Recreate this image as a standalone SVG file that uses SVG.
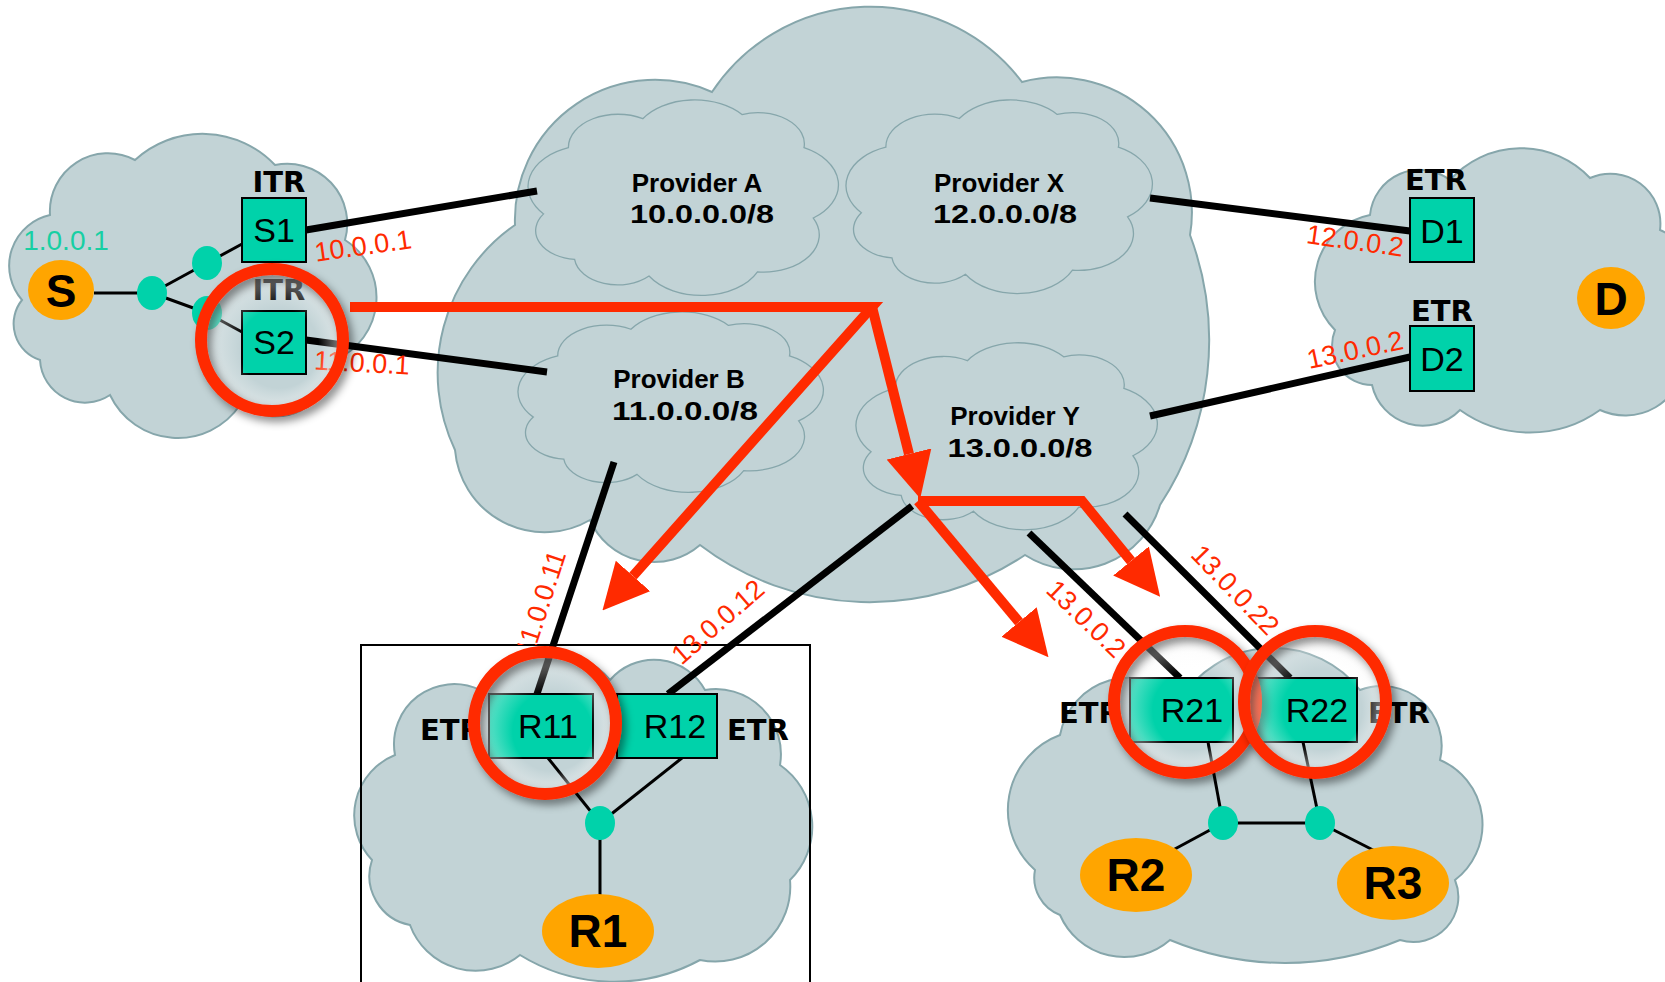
<svg xmlns="http://www.w3.org/2000/svg" xmlns:xlink="http://www.w3.org/1999/xlink" width="1665" height="982" viewBox="0 0 1665 982">
<style>
.cloud{fill:#c2d3d6;stroke:#86a6ab;stroke-width:2}
.pc{fill:#c2d3d6;stroke:#86a6ab;stroke-width:1.3}
.link{stroke:#000;stroke-width:7;fill:none}
.lan{stroke:#000;stroke-width:3;fill:none}
.box{fill:#00d2aa;stroke:#000;stroke-width:2}
.dot{fill:#00d2aa}
.host{fill:#ffa500}
.red{stroke:#ff2a00;stroke-width:10;fill:none;stroke-linejoin:miter}
.ring{fill:none;stroke:#ff2a00;stroke-width:12;filter:url(#sh)}
.glow{fill:url(#rg)}
.ip{fill:#ff2a00;font-family:"Liberation Sans",Arial,sans-serif;font-size:27px;text-anchor:middle}
.tr{font-family:"DejaVu Sans",sans-serif;font-weight:bold;font-size:29px;text-anchor:middle}
.bl{font-family:"Liberation Sans",Arial,sans-serif;font-size:34px;text-anchor:middle}
.hl{font-family:"Liberation Sans",Arial,sans-serif;font-weight:bold;font-size:46px;text-anchor:middle}
.pv{font-family:"Liberation Sans",Arial,sans-serif;font-weight:bold;font-size:26px;text-anchor:middle}
</style>
<defs>
<path id="pcloud" vector-effect="non-scaling-stroke" d="M6,60 A20,20 0 0 1 14,28 A16,16 0 0 1 38,14 A20,20 0 0 1 70,12 A15,15 0 0 1 90,28 A20,20 0 0 1 93,62 A18,18 0 0 1 75,88 A20,20 0 0 1 40,90 A14,14 0 0 1 16,82 A14,14 0 0 1 6,60 Z"/>
<marker id="ah" viewBox="0 0 10 10" refX="0" refY="5" markerWidth="4.6" markerHeight="4.6" orient="auto" markerUnits="strokeWidth">
<path d="M0,0 L10,5 L0,10 Z" fill="#ff2a00"/>
</marker>
<filter id="sh" x="-30%" y="-30%" width="170%" height="170%">
<feDropShadow dx="4" dy="5" stdDeviation="4" flood-color="#000" flood-opacity="0.45"/>
</filter>
<radialGradient id="rg" cx="0.5" cy="0.5" r="0.5" fx="0.64" fy="0.66">
<stop offset="0.6" stop-color="#ffffff" stop-opacity="0"/>
<stop offset="1" stop-color="#f2f2f2" stop-opacity="0.5"/>
</radialGradient>
<clipPath id="clipTop"><rect x="0" y="0" width="1665" height="645"/></clipPath>
</defs>
<rect width="1665" height="982" fill="#fff"/>

<g id="clouds">
<path class="cloud" d="M455,450 A180,180 0 0 1 515,225 A140,140 0 0 1 712,92 A190,190 0 0 1 1022,82 A135,135 0 0 1 1190,235 A300,300 0 0 1 1160,505 A90,90 0 0 1 1025,555 A280,280 0 0 1 700,545 A70,70 0 0 1 590,520 A90,90 0 0 1 455,450 Z"/>
<path class="cloud" d="M22,300 A52,52 0 0 1 50,215 A58,58 0 0 1 135,160 A100,100 0 0 1 275,165 A60,60 0 0 1 345,240 A68,68 0 0 1 335,360 A60,60 0 0 1 240,405 A75,75 0 0 1 110,395 A45,45 0 0 1 40,360 A38,38 0 0 1 22,300 Z"/>
<path class="cloud" d="M1335,330 A68,68 0 0 1 1370,215 A50,50 0 0 1 1450,180 A95,95 0 0 1 1590,178 A50,50 0 0 1 1660,230 A80,80 0 0 1 1685,360 A60,60 0 0 1 1600,410 A120,120 0 0 1 1460,410 A52,52 0 0 1 1372,385 A40,40 0 0 1 1335,330 Z"/>
<path class="cloud" d="M372,860 A65,65 0 0 1 395,755 A60,60 0 0 1 480,690 A80,80 0 0 1 610,680 A58,58 0 0 1 705,690 A65,65 0 0 1 780,765 A75,75 0 0 1 790,880 A75,75 0 0 1 700,960 A180,180 0 0 1 520,955 A70,70 0 0 1 410,925 A50,50 0 0 1 372,860 Z"/>
<path class="cloud" d="M1035,870 A80,80 0 0 1 1060,735 A70,70 0 0 1 1180,700 A110,110 0 0 1 1360,690 A60,60 0 0 1 1440,760 A70,70 0 0 1 1455,880 A45,45 0 0 1 1400,940 A300,300 0 0 1 1170,940 A70,70 0 0 1 1060,915 A40,40 0 0 1 1035,870 Z"/>
</g>

<g id="providerA">
<use xlink:href="#pcloud" class="pc" transform="translate(525,89.7) scale(3.1,2.07)"/>
<text class="pv" x="697" y="192">Provider A</text>
<text class="pv" x="702" y="223" textLength="144" lengthAdjust="spacingAndGlyphs">10.0.0.0/8</text>
</g>
<g id="providerX">
<use xlink:href="#pcloud" class="pc" transform="translate(843,89.8) scale(3.06,2.05)"/>
<text class="pv" x="999" y="192">Provider X</text>
<text class="pv" x="1005" y="223" textLength="144" lengthAdjust="spacingAndGlyphs">12.0.0.0/8</text>
</g>
<g id="providerB">
<use xlink:href="#pcloud" class="pc" transform="translate(515,302.5) scale(3.05,1.91)"/>
<text class="pv" x="679" y="388">Provider B</text>
<text class="pv" x="685" y="420" textLength="146" lengthAdjust="spacingAndGlyphs">11.0.0.0/8</text>
</g>
<g id="providerY">
<use xlink:href="#pcloud" class="pc" transform="translate(853,333) scale(3.01,1.98)"/>
<text class="pv" x="1015" y="425">Provider Y</text>
<text class="pv" x="1020" y="457" textLength="145" lengthAdjust="spacingAndGlyphs">13.0.0.0/8</text>
</g>

<rect id="site-R1-frame" x="361" y="645" width="449" height="360" fill="none" stroke="#000" stroke-width="2"/>

<g id="connectors">
<line class="link" x1="306" y1="230" x2="537" y2="191"/>
<line class="link" x1="306" y1="340" x2="547" y2="372"/>
<line class="link" x1="1150" y1="198" x2="1410" y2="231"/>
<line class="link" x1="1150" y1="416" x2="1410" y2="357"/>
<line class="link" x1="614" y1="462" x2="537" y2="694"/>
<line class="link" x1="912" y1="506" x2="668" y2="694"/>
<line class="link" x1="1029" y1="533" x2="1180" y2="678"/>
<line class="link" x1="1125" y1="514" x2="1290" y2="678"/>
<line class="lan" x1="94" y1="293" x2="152" y2="293"/>
<line class="lan" x1="152" y1="293" x2="207" y2="263"/>
<line class="lan" x1="152" y1="293" x2="207" y2="313"/>
<line class="lan" x1="207" y1="263" x2="242" y2="244"/>
<line class="lan" x1="207" y1="313" x2="242" y2="332"/>
<line class="lan" x1="548" y1="758" x2="600" y2="823"/>
<line class="lan" x1="682" y1="758" x2="600" y2="823"/>
<line class="lan" x1="600" y1="823" x2="600" y2="895"/>
<line class="lan" x1="1208" y1="742" x2="1223" y2="823"/>
<line class="lan" x1="1303" y1="742" x2="1320" y2="823"/>
<line class="lan" x1="1223" y1="823" x2="1320" y2="823"/>
<line class="lan" x1="1223" y1="823" x2="1173" y2="850"/>
<line class="lan" x1="1320" y1="823" x2="1377" y2="852"/>
</g>

<g id="S">
<ellipse class="host" cx="61" cy="290" rx="33" ry="30"/>
<text class="hl" x="61" y="307">S</text>
<text x="66" y="250" font-family="Liberation Sans, Arial, sans-serif" font-size="28" fill="#17cfa3" text-anchor="middle">1.0.0.1</text>
</g>
<g id="lanS">
<ellipse class="dot" cx="152" cy="293" rx="15" ry="17"/>
<ellipse class="dot" cx="207" cy="263" rx="15" ry="17"/>
<ellipse class="dot" cx="207" cy="313" rx="15" ry="17"/>
</g>
<g id="S1">
<text class="tr" x="279" y="192">ITR</text>
<rect class="box" x="242" y="198" width="64" height="64"/>
<text class="bl" x="274" y="242">S1</text>
</g>
<g id="S2">
<text class="tr" x="279" y="300">ITR</text>
<rect class="box" x="242" y="311" width="64" height="63"/>
<text class="bl" x="274" y="354">S2</text>
</g>
<g id="D1">
<text class="tr" x="1436" y="190">ETR</text>
<rect class="box" x="1410" y="198" width="64" height="64"/>
<text class="bl" x="1442" y="243">D1</text>
</g>
<g id="D2">
<text class="tr" x="1442" y="321">ETR</text>
<rect class="box" x="1410" y="326" width="64" height="65"/>
<text class="bl" x="1442" y="371">D2</text>
</g>
<g id="D">
<ellipse class="host" cx="1611" cy="298" rx="34" ry="31"/>
<text class="hl" x="1611" y="315">D</text>
</g>
<g id="R11">
<text class="tr" x="451" y="740">ETR</text>
<rect class="box" x="489" y="694" width="104" height="64"/>
<text class="bl" x="548" y="738">R11</text>
</g>
<g id="R12">
<rect class="box" x="617" y="694" width="100" height="64"/>
<text class="bl" x="675" y="738">R12</text>
<text class="tr" x="758" y="740">ETR</text>
</g>
<g id="lanR1">
<ellipse class="dot" cx="600" cy="823" rx="15" ry="17"/>
</g>
<g id="R1">
<ellipse class="host" cx="598" cy="931" rx="56" ry="37"/>
<text class="hl" x="598" y="947">R1</text>
</g>
<g id="R21">
<text class="tr" x="1090" y="723">ETR</text>
<rect class="box" x="1130" y="678" width="103" height="64"/>
<text class="bl" x="1192" y="722">R21</text>
</g>
<g id="R22">
<rect class="box" x="1253" y="678" width="104" height="64"/>
<text class="bl" x="1317" y="722">R22</text>
<text class="tr" x="1399" y="723">ETR</text>
</g>
<g id="lanR2">
<ellipse class="dot" cx="1223" cy="823" rx="15" ry="17"/>
<ellipse class="dot" cx="1320" cy="823" rx="15" ry="17"/>
</g>
<g id="R2">
<ellipse class="host" cx="1136" cy="875" rx="56" ry="37"/>
<text class="hl" x="1136" y="891">R2</text>
</g>
<g id="R3">
<ellipse class="host" cx="1393" cy="883" rx="56" ry="37"/>
<text class="hl" x="1393" y="899">R3</text>
</g>

<g id="ip-labels">
<text class="ip" transform="translate(363,246) rotate(-8)" y="9">10.0.0.1</text>
<text class="ip" transform="translate(362,363) rotate(3)" y="9">11.0.0.1</text>
<text class="ip" transform="translate(1355,241) rotate(8)" y="9">12.0.0.2</text>
<text class="ip" transform="translate(1355,350) rotate(-12)" y="9">13.0.0.2</text>
<g clip-path="url(#clipTop)">
<text class="ip" transform="translate(541,603) rotate(-72)" y="9">11.0.0.11</text>
</g>
<text class="ip" transform="translate(718,622) rotate(-41)" y="9">13.0.0.12</text>
<text class="ip" transform="translate(1086,619) rotate(44)" y="9">13.0.0.2</text>
<text class="ip" transform="translate(1235,590) rotate(46)" y="9">13.0.0.22</text>
</g>

<g id="arrows">
<path class="red" d="M350,307 L872,307 L633,576" marker-end="url(#ah)"/>
<path class="red" d="M872,307 L909,454" marker-end="url(#ah)"/>
<path class="red" d="M918,501 L1082,501 L1131,561" marker-end="url(#ah)"/>
<path class="red" d="M918,501 L1019,622" marker-end="url(#ah)"/>
</g>

<g id="highlights">
<circle class="glow" cx="272" cy="340" r="66"/>
<circle class="ring" cx="272" cy="340" r="71"/>
<circle class="glow" cx="545" cy="723" r="66"/>
<circle class="ring" cx="545" cy="723" r="71"/>
<circle class="glow" cx="1185" cy="702" r="66"/>
<circle class="ring" cx="1185" cy="702" r="71"/>
<circle class="glow" cx="1315" cy="702" r="66"/>
<circle class="ring" cx="1315" cy="702" r="71"/>
</g>
</svg>
